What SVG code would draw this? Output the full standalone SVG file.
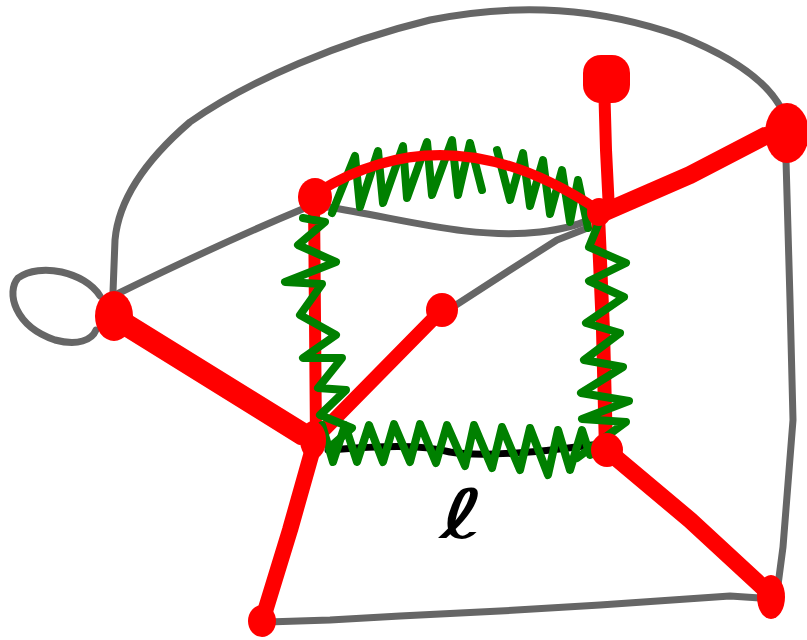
<svg xmlns="http://www.w3.org/2000/svg" width="807" height="640" viewBox="0 0 807 640">
<style>
.g{fill:none;stroke:#666666;stroke-width:7;stroke-linecap:round;stroke-linejoin:round}
.r{fill:none;stroke:#ff0000;stroke-linecap:round;stroke-linejoin:round}
.z{fill:none;stroke:#008000;stroke-width:8;stroke-linecap:round;stroke-linejoin:round}
.k{fill:none;stroke:#000000;stroke-width:7;stroke-linecap:round;stroke-linejoin:round}
.n{fill:#ff0000}
.lbl{font-family:"DejaVu Sans",sans-serif;font-size:68px;fill:#000000}
</style>
<rect width="807" height="640" fill="#ffffff"/>
<g id="connectors">
  <path class="g" d="M100 296 C85 272 40 262 18 278 C6 292 14 326 55 340 C78 346 92 340 96 330"/>
  <path class="g" d="M113 292 L115 240 C118 205 140 165 190 122 C250 80 340 42 430 20 C520 2 600 8 680 36 C740 60 770 86 782 110"/>
  <path class="g" d="M115 295 C170 268 240 235 305 208"/>
  <path class="g" d="M327 207 C400 218 470 240 540 232 C565 229 580 224 588 220"/>
  <path class="g" d="M456 305 L510 270 L557 240 L585 229"/>
  <path class="g" d="M786 160 L790 300 L793 420 L783 547 L778 585"/>
  <path class="g" d="M267 622 L330 620 L400 616 L500 611 L600 605 L730 596 L760 598"/>
  <path class="k" d="M328 450 C380 446 420 444 450 452 C480 457 540 452 592 445"/>
  <path class="r" stroke-width="16" d="M118 316 L312 436"/>
  <path class="r" stroke-width="10" d="M110 322 L300 440"/>
  <path class="r" stroke-width="14" d="M316 438 L440 312"/>
  <path class="r" stroke-width="16" d="M314 445 L290 530 L263 618"/>
  <path class="r" stroke-width="12" d="M314 200 L316 440"/>
  <path class="r" stroke-width="14" d="M598 215 L603 330 L606 450"/>
  <path class="r" stroke-width="12" d="M604 80 L606 150 L609 210"/>
  <path class="r" stroke-width="18" d="M605 212 L690 175 L765 136"/>
  <path class="r" stroke-width="17" d="M609 452 L690 520 L768 592"/>
</g>
<g id="highlights">
  <polyline class="z" points="303,218 325,222 298,245 336,262 285,282 322,284 300,315 336,335 303,358 342,358 318,388 346,390 320,415 352,428 330,447"/>
  <polyline class="z" points="600,220 589,247 626,263 589,281 624,297 586,323 620,333 584,360 623,367 581,393 629,401 582,419 626,422 577,458"/>
  <polyline class="z" points="322,425 333,462 345,425 357,462 369,425 383,462 394,424 410,462 420,424 436,463 447,425 465,466 474,425 492,468 502,427 520,470 530,428 548,475 558,430 570,470 582,430 590,455"/>
  <polyline class="z" points="332,213 355,156 360,207 378,151 383,203 403,146 407,198 427,142 432,195 452,140 458,195 470,143 482,190"/>
  <polyline class="z" points="497,150 510,200 523,153 530,206 543,160 550,214 562,170 570,222 578,180 588,228"/>
</g>
<path class="r" stroke-width="10" d="M318 192 Q450 110 598 210"/>
<g id="node-A"><ellipse class="n" cx="114" cy="316" rx="19" ry="25"/></g>
<g id="node-B"><ellipse class="n" cx="315" cy="197" rx="17" ry="19"/></g>
<g id="node-C"><rect class="n" x="583" y="55" width="47" height="48" rx="18"/></g>
<g id="node-D"><ellipse class="n" cx="787" cy="133" rx="22" ry="30"/></g>
<g id="node-E"><ellipse class="n" cx="599" cy="212" rx="12" ry="14"/></g>
<g id="node-F"><ellipse class="n" cx="442" cy="310" rx="16" ry="17"/></g>
<g id="node-G"><ellipse class="n" cx="313" cy="440" rx="13" ry="19"/></g>
<g id="node-H"><ellipse class="n" cx="607" cy="450" rx="16" ry="17"/></g>
<g id="node-I"><ellipse class="n" cx="262" cy="621" rx="14" ry="16"/></g>
<g id="node-J"><ellipse class="n" cx="771" cy="597" rx="14" ry="22"/></g>
<g id="label"><text class="lbl" transform="translate(462,538) scale(1.6,1)" text-anchor="middle">ℓ</text></g>
</svg>
